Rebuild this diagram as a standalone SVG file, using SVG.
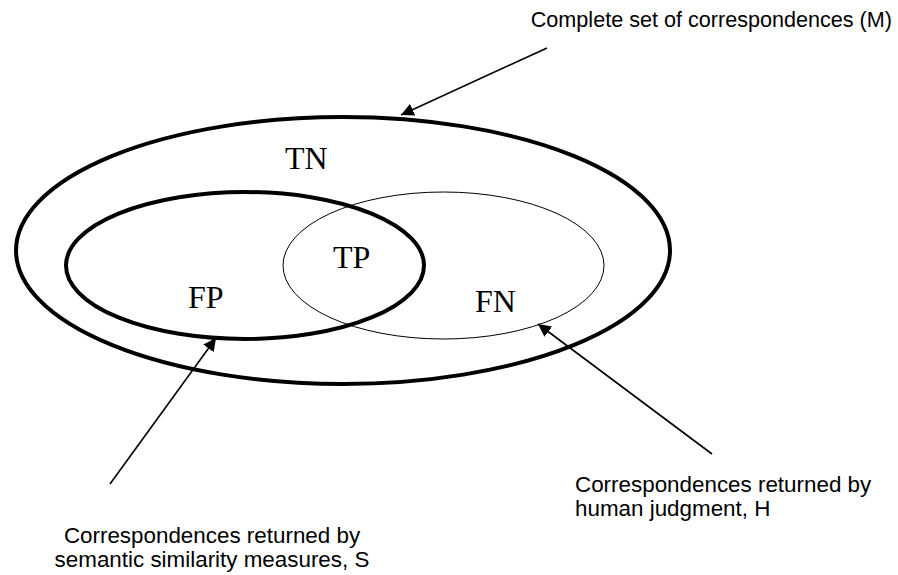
<svg xmlns="http://www.w3.org/2000/svg" width="898" height="575" viewBox="0 0 898 575">
<defs>
<style>
.thick{fill:none;stroke:#000;stroke-width:4}
.thin{fill:none;stroke:#000;stroke-width:1}
.lbl{font-family:"Liberation Serif","Times New Roman",serif;font-size:32px;fill:#000}
.cap{font-family:"Liberation Sans",Arial,sans-serif;font-size:22.4px;fill:#000}
.top{font-size:21.6px}
.conn{stroke:#000;stroke-width:1.6;fill:none}
</style>
<marker id="ah" viewBox="0 0 10 10" refX="10" refY="5" markerWidth="8" markerHeight="8" markerUnits="strokeWidth" orient="auto">
<path d="M0,0 L10,5 L0,10 z" fill="#000"/>
</marker>
</defs>
<rect width="898" height="575" fill="#fff"/>
<g id="M">
<ellipse class="thick" cx="343" cy="250.5" rx="327" ry="133.5"/>
<text class="lbl" x="285" y="169">TN</text>
</g>
<g id="S">
<ellipse class="thick" cx="245" cy="265.5" rx="179" ry="73.5"/>
<text class="lbl" x="188" y="308">FP</text>
</g>
<g id="H">
<ellipse class="thin" cx="443.5" cy="265.5" rx="160.5" ry="73.5"/>
<text class="lbl" x="475" y="312">FN</text>
</g>
<g id="TP">
<text class="lbl" x="333" y="268">TP</text>
</g>
<g id="connectors">
<line class="conn" x1="547" y1="48" x2="401" y2="115" marker-end="url(#ah)"/>
<line class="conn" x1="110" y1="484" x2="216" y2="338" marker-end="url(#ah)"/>
<line class="conn" x1="712" y1="454" x2="538" y2="324" marker-end="url(#ah)"/>
</g>
<g id="labels">
<text class="cap top" x="892" y="27" text-anchor="end">Complete set of correspondences (M)</text>
<text class="cap" x="575" y="492">Correspondences returned by</text>
<text class="cap" x="575" y="516">human judgment, H</text>
<text class="cap" x="212" y="543" text-anchor="middle">Correspondences returned by</text>
<text class="cap" x="212" y="567" text-anchor="middle">semantic similarity measures, S</text>
</g>
</svg>
